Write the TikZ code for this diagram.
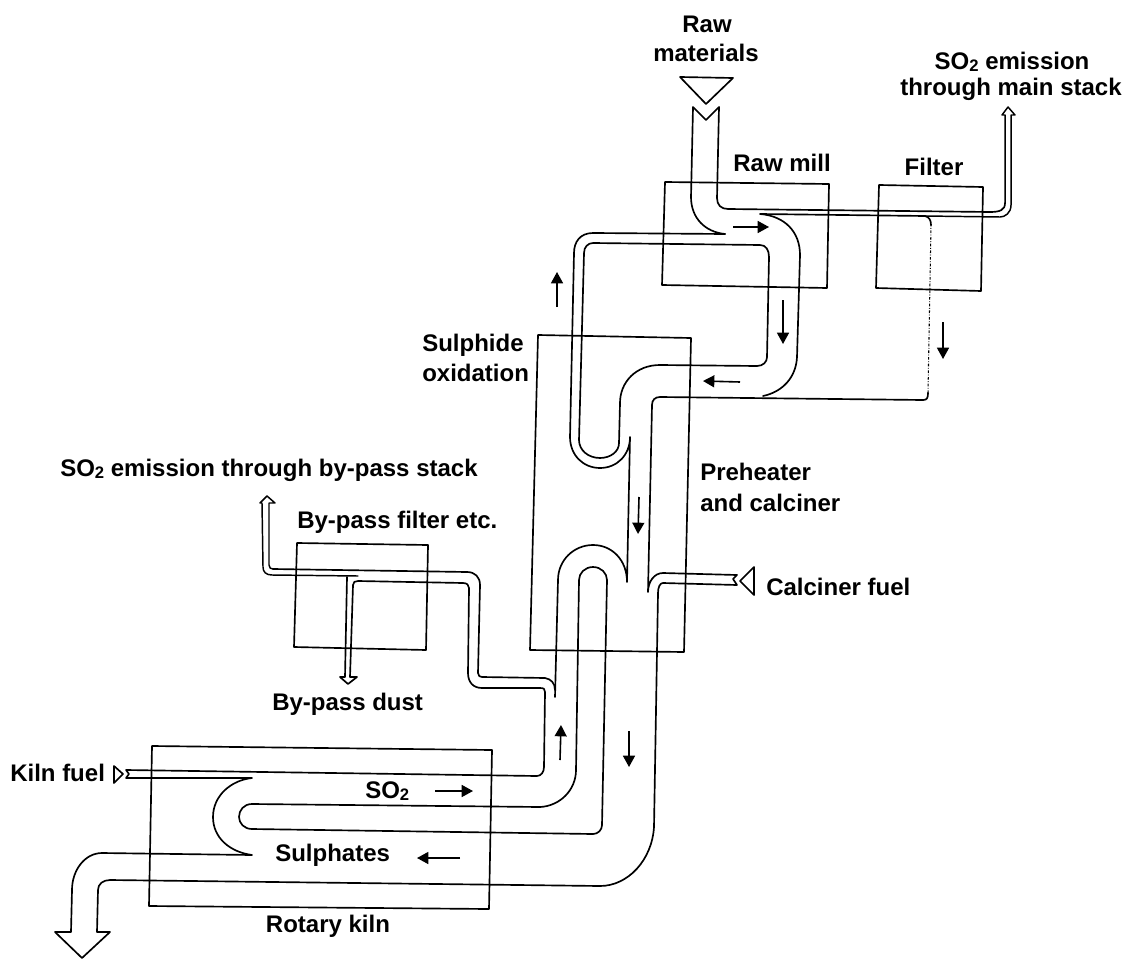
\documentclass[tikz,border=0pt]{standalone}
\usepackage{fontspec}
\setmainfont{Liberation Sans}
\usetikzlibrary{arrows.meta}
\newcommand{\sotwo}{SO\raisebox{-0.2ex}{\fontsize{12.5}{12.5}\selectfont 2}}
\tikzset{
  pipe/.style={draw=black,line width=1.25pt,line join=round,line cap=round},
  thinpipe/.style={draw=black,line width=1.1pt,line join=round,line cap=round},
  unit/.style={draw=black,line width=1.25pt,line join=round},
  flow/.style={draw=black,line width=1.2pt,-{Triangle[length=8.5pt,width=9pt]}},
  dust/.style={draw=black,line width=0.8pt,dash pattern=on 2pt off 1.2pt on 0.6pt off 1.2pt},
  lab/.style={font=\bfseries\fontsize{18}{21}\selectfont,inner sep=0pt,text=black},
}
\begin{document}
\begin{tikzpicture}[x=0.75pt,y=-0.75pt]
\useasboundingbox (0,0) rectangle (1130,959);
\fill[white] (0,0) rectangle (1130,959);
% units
\draw[unit] (665,182) -- (829,184) -- (827,288) -- (662,285) -- cycle;
\draw[unit] (879,185) -- (983,187) -- (981,291) -- (876,288) -- cycle;
\draw[unit] (538,335) -- (691,338) -- (684,652) -- (530,650) -- cycle;
\draw[unit] (297,543) -- (428,545) -- (426,650) -- (294,647) -- cycle;
\draw[unit] (152,746) -- (492,750) -- (489,909) -- (149,906) -- cycle;
% raw materials funnel
\draw[pipe] (680,77) -- (733,78) -- (706,104) -- cycle;
% raw meal pipe, main stack
\draw[pipe] (725,234) .. controls (705,232) and (691,218) .. (691,197) -- (693,107) -- (706,120) -- (719,107) -- (717,198)
  .. controls (717,205) and (721,209) .. (728,209) -- (990,212) .. controls (1000,212) and (1005,210) .. (1005,203);
\draw[thinpipe] (1005,203) -- (1005,115) -- (1002,115) -- (1008,107) -- (1015,115) -- (1011,115) -- (1011,205)
  .. controls (1011,213) and (1005,217) .. (1000,217) -- (925,216);
\draw[pipe] (925,216) -- (760,214) .. controls (785,216) and (800,232) .. (800,255) -- (797,357) .. controls (796,378) and (782,392) .. (763,396);
% recycle loop outer
\draw[pipe] (725,234) -- (593,233) .. controls (580,233) and (574,242) .. (574,253) -- (570,437)
  .. controls (570,455) and (583,468) .. (600,468) .. controls (617,468) and (630,455) .. (630,437) -- (627,582)
  .. controls (627,560) and (612,545) .. (593,545) .. controls (574,545) and (558,560) .. (558,580) -- (555,697);
% recycle loop inner
\draw[pipe] (619,443) .. controls (619,452) and (610,458) .. (600,458) .. controls (588,458) and (579,450) .. (579,440) -- (584,253)
  .. controls (584,247) and (588,243) .. (593,243) -- (760,245) .. controls (766,245) and (769,250) .. (769,257) -- (767,357)
  .. controls (767,362) and (763,366) .. (757,366) -- (660,365) .. controls (636,365) and (620,382) .. (620,403) -- cycle;
% filter dust line
\draw[pipe] (923,400) -- (660,397) .. controls (655,397) and (652,400) .. (652,405) -- (648,592)
  .. controls (648,582) and (654,573) .. (663,573) -- (737,575) -- (733,579) -- (737,585) -- (663,583)
  .. controls (660,583) and (658,587) .. (658,593) -- (654,827) .. controls (652,860) and (628,886) .. (600,886)
  -- (110,880) .. controls (103,880) and (98,884) .. (98,890) -- (97,932) -- (110,932) -- (82,958) -- (55,932) -- (71,932)
  -- (72,890) .. controls (72,870) and (85,853) .. (102,853) -- (252,855)
  .. controls (230,852) and (213,838) .. (213,817) .. controls (213,795) and (232,780) .. (252,778)
  -- (126,778) -- (129,774) -- (126,770) -- (537,776) .. controls (541,776) and (544,772) .. (544,767) -- (545,692)
  .. controls (545,689) and (544,688) .. (540,688) -- (482,688) .. controls (473,688) and (468,682) .. (468,673) -- (469,588)
  .. controls (469,585) and (467,583) .. (463,583) -- (358,581) .. controls (355,581) and (353,582) .. (353,585)
  -- (350,677) -- (357,677) -- (348,684) -- (340,677) -- (345,677) -- (347,577);
\draw[pipe] (923,400) .. controls (927,400) and (928,398) .. (928,393);
\draw[dust] (928,393) -- (931,225);
\draw[pipe] (931,225) .. controls (931,220) and (929,217) .. (925,216);
% calciner fuel triangle
\draw[pipe] (754,567) -- (740,581) -- (754,595) -- cycle;
% kiln fuel triangle
\draw[pipe] (114,766) -- (123,774) -- (114,783) -- cycle;
% by-pass stack
\draw[thinpipe] (358,576) -- (272,575) .. controls (266,575) and (263,572) .. (263,567) -- (262,503) -- (260,503) -- (267,496) -- (275,503) -- (269,503) -- (269,565)
  .. controls (269,568) and (271,569) .. (273,569);
\draw[pipe] (273,569) -- (467,572) .. controls (475,572) and (480,577) .. (480,585) -- (478,673) .. controls (478,676) and (480,677) .. (482,677)
  -- (545,678) .. controls (551,679) and (555,683) .. (555,690);
% kiln inner loop
\draw[pipe] (602,825) .. controls (602,830) and (598,834) .. (593,834) -- (252,829) .. controls (244,829) and (239,823) .. (239,817)
  .. controls (239,810) and (244,804) .. (252,804) -- (540,807) .. controls (560,806) and (576,790) .. (576,770) -- (579,580)
  .. controls (579,573) and (585,567) .. (593,567) .. controls (601,567) and (607,573) .. (607,580) -- cycle;
% flow arrows
\coordinate (f1a) at (733,227); \coordinate (f1b) at (769,227);
\coordinate (f2a) at (783,300); \coordinate (f2b) at (783,344);
\coordinate (f3a) at (943,322); \coordinate (f3b) at (943,359);
\coordinate (f4a) at (740,382); \coordinate (f4b) at (703,381);
\coordinate (f5a) at (557,307); \coordinate (f5b) at (557,272);
\coordinate (f6a) at (639,497); \coordinate (f6b) at (638,534);
\coordinate (f7a) at (560,760); \coordinate (f7b) at (561,725);
\coordinate (f8a) at (629,731); \coordinate (f8b) at (629,767);
\coordinate (f9a) at (435,791); \coordinate (f9b) at (473,791);
\coordinate (f10a) at (460,858); \coordinate (f10b) at (417,858);
\foreach \n in {1,...,10} \draw[flow] (f\n a) -- (f\n b);
% labels
\node[lab] (rawa) at (707,24) {Raw};
\node[lab] (rawb) at (706,53) {materials};
\node[lab] (stacka) at (1012,62) {\sotwo{} emission};
\node[lab] (stackb) at (1011,89) {through main stack};
\node[lab] (rawmill) at (782,163) {Raw mill};
\node[lab] (filter) at (934,167) {Filter};
\node[lab,anchor=west] (sulpha) at (422,345) {Sulphide};
\node[lab,anchor=west] (sulphb) at (422,373) {oxidation};
\node[lab,anchor=west] (prea) at (700,472) {Preheater};
\node[lab,anchor=west] (preb) at (700,503) {and calciner};
\node[lab,anchor=west] (calc) at (766,587) {Calciner fuel};
\node[lab,anchor=west] (bystack) at (60,470) {\sotwo{} emission through by-pass stack};
\node[lab,anchor=west] (byfilter) at (297,522) {By-pass filter etc.};
\node[lab,anchor=west] (bydust) at (272,704) {By-pass dust};
\node[lab,anchor=west] (kfuel) at (10,773) {Kiln fuel};
\node[lab,anchor=west] (so) at (365,791) {\sotwo};
\node[lab,anchor=west] (sulphates) at (275,855) {Sulphates};
\node[lab] (kiln) at (328,926) {Rotary kiln};
\end{tikzpicture}
\end{document}
